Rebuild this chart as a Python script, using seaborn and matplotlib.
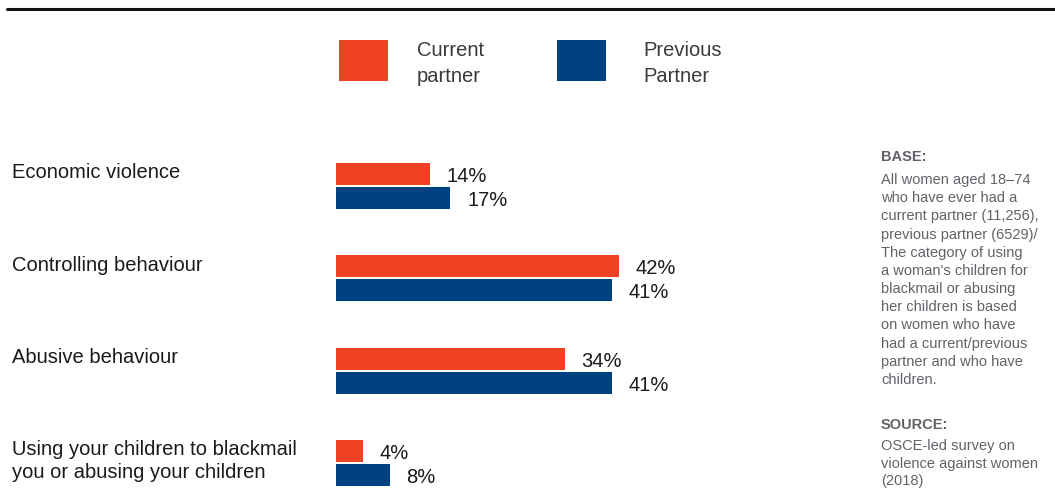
import matplotlib
matplotlib.use("Agg")
import matplotlib.pyplot as plt
from matplotlib.lines import Line2D
import matplotlib.transforms as mtransforms
import pandas as pd
import seaborn as sns

# ---- data -------------------------------------------------------------
categories = [
    "Economic violence",
    "Controlling behaviour",
    "Abusive behaviour",
    "Using your children to blackmail\nyou or abusing your children",
]
series_names = ["Current partner", "Previous Partner"]
legend_labels = ["Current\npartner", "Previous\nPartner"]
current_partner = [14, 42, 34, 4]
previous_partner = [17, 41, 41, 8]

base_note = ("All women aged 18\u201374\nwho have ever had a\ncurrent partner (11,256),\n"
             "previous partner (6529)/\nThe category of using\na woman's children for\n"
             "blackmail or abusing\nher children is based\non women who have\n"
             "had a current/previous\npartner and who have\nchildren.")
source_note = "OSCE-led survey on\nviolence against women\n(2018)"

RED = "#EF4123"
BLUE = "#00427F"
TEXT = "#1a1a1a"
GREY = "#5f6368"

df = pd.DataFrame({
    "category": categories * 2,
    "series": [series_names[0]] * len(categories) + [series_names[1]] * len(categories),
    "value": current_partner + previous_partner,
})

# ---- figure -----------------------------------------------------------
sns.set_style("white")
plt.rcParams["font.family"] = ["Liberation Sans", "DejaVu Sans"]

W, H = 1055, 501
fig = plt.figure(figsize=(W / 100, H / 100), dpi=100)

px_per_unit = 6.73           # horizontal pixels per percentage point
x_max = 50
left_px = 336
ax_top_px, ax_bot_px = 139.9, 490.6
ax = fig.add_axes([left_px / W, 1 - ax_bot_px / H,
                   x_max * px_per_unit / W, (ax_bot_px - ax_top_px) / H])

sns.barplot(data=df, y="category", x="value", hue="series", order=categories,
            hue_order=series_names, palette=[RED, BLUE], saturation=1,
            width=0.52, gap=0.08, orient="h", linewidth=0, ax=ax)

ax.set_xlim(0, x_max)
ax.set_ylim(3.3, -0.5)
ax.set_xlabel("")
ax.set_ylabel("")
ax.set_xticks([])
ax.set_yticks([])
for s in ax.spines.values():
    s.set_visible(False)
ax.patch.set_alpha(0)

# value labels, nudged slightly below the bar centre
for cont, vals in zip(ax.containers, [current_partner, previous_partner]):
    anns = ax.bar_label(cont, labels=[f"{v}%" for v in vals], padding=12,
                        fontsize=14.5, color=TEXT)
    for a in anns:
        a.xyann = (a.xyann[0], -1.8)

# category labels, top-aligned with the first bar of each group
lab_tr = mtransforms.blended_transform_factory(fig.transFigure, ax.transData)
lab_tr = lab_tr + mtransforms.ScaledTranslation(0, -0.5 / 100, fig.dpi_scale_trans)
for i, cat in enumerate(categories):
    ax.text(12 / W, i - 0.25, cat, transform=lab_tr, ha="left", va="top",
            fontsize=14.5, color=TEXT, linespacing=1.25)

# legend
handles, _ = ax.get_legend_handles_labels()
leg = ax.legend(handles, legend_labels, loc="upper left",
                bbox_to_anchor=(339 / W, 1 - 36 / H), bbox_transform=fig.transFigure,
                ncol=2, frameon=False, fontsize=14.5, labelcolor="#3a3a3a",
                handlelength=2.44, handleheight=2.79, handletextpad=1.44,
                columnspacing=3.6, borderpad=0, borderaxespad=0)
# extra leading and a small shift for the legend texts
for t, dx in zip(leg.get_texts(), [0, 8]):
    t.set_linespacing(1.5)
    t.set_transform(t.get_transform()
                    + mtransforms.ScaledTranslation(dx / 100, -5 / 100, fig.dpi_scale_trans))

# rule across the top
fig.add_artist(Line2D([7 / W, 1.0], [1 - 9 / H, 1 - 9 / H],
                      transform=fig.transFigure, color="#111111", lw=2.2))

# notes on the right
fig.text(881 / W, 1 - 150 / H, "BASE:", ha="left", va="top", fontsize=10.5,
         fontweight="bold", color=GREY)
fig.text(881 / W, 1 - 173 / H, base_note, ha="left", va="top", fontsize=10.5,
         color=GREY, linespacing=1.38)
fig.text(881 / W, 1 - 418 / H, "SOURCE:", ha="left", va="top", fontsize=10.5,
         fontweight="bold", color=GREY)
fig.text(881 / W, 1 - 439 / H, source_note, ha="left", va="top", fontsize=10.5,
         color=GREY, linespacing=1.32)

fig.savefig("out.png", dpi=100)
